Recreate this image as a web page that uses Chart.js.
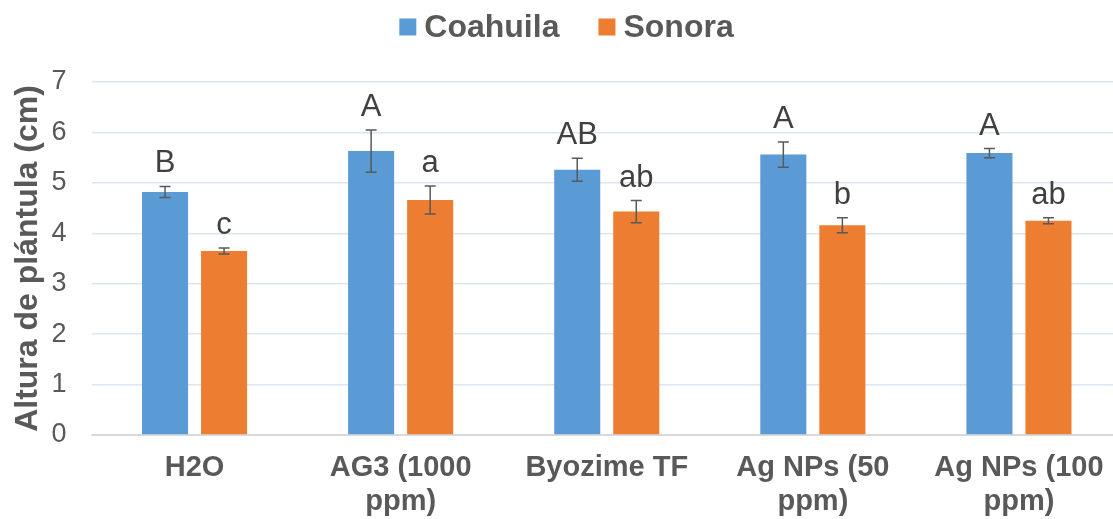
<!DOCTYPE html>
<html>
<head>
<meta charset="utf-8">
<script src="https://cdn.jsdelivr.net/npm/chart.js@4"></script>
<style>
  html, body { margin: 0; padding: 0; background: #ffffff; overflow: hidden; }
  #wrap { width: 1133px; height: 519px; position: relative; }
</style>
</head>
<body>
<div id="wrap"><canvas id="chart"></canvas></div>
<script>
// data
const categories = ['H2O', ['AG3 (1000', 'ppm)'], 'Byozime TF', ['Ag NPs (50', 'ppm)'], ['Ag NPs (100', 'ppm)']];
const coahuila = [4.82, 5.63, 5.26, 5.56, 5.59];
const coahuilaErr = [0.11, 0.42, 0.23, 0.25, 0.09];
const coahuilaLetters = ['B', 'A', 'AB', 'A', 'A'];
const sonora = [3.65, 4.66, 4.43, 4.16, 4.25];
const sonoraErr = [0.06, 0.28, 0.22, 0.15, 0.06];
const sonoraLetters = ['c', 'a', 'ab', 'b', 'ab'];
const yTicks = [0, 1, 2, 3, 4, 5, 6, 7];

const FONT = '"Liberation Sans", Arial, sans-serif';

// error bars + significance letters
const errorBarPlugin = {
    id: 'errorBars',
    afterDatasetsDraw(chart) {
        const ctx = chart.ctx;
        const yScale = chart.scales.y;
        chart.data.datasets.forEach((ds, di) => {
            const meta = chart.getDatasetMeta(di);
            meta.data.forEach((bar, i) => {
                const v = ds.data[i];
                const e = ds.errors[i];
                const yTop = yScale.getPixelForValue(v + e);
                const yBot = yScale.getPixelForValue(v - e);
                ctx.save();
                ctx.strokeStyle = '#595959';
                ctx.lineWidth = 1.5;
                ctx.beginPath();
                ctx.moveTo(bar.x, yTop);
                ctx.lineTo(bar.x, yBot);
                ctx.moveTo(bar.x - 5.5, yTop);
                ctx.lineTo(bar.x + 5.5, yTop);
                ctx.moveTo(bar.x - 5.5, yBot);
                ctx.lineTo(bar.x + 5.5, yBot);
                ctx.stroke();
                ctx.fillStyle = '#404040';
                ctx.font = '31px ' + FONT;
                ctx.textAlign = 'center';
                ctx.textBaseline = 'alphabetic';
                ctx.fillText(ds.letters[i], bar.x, yTop - 14);
                ctx.restore();
            });
        });
    }
};

// legend on top, drawn from the dataset labels and colours
const topLegendPlugin = {
    id: 'topLegend',
    afterDraw(chart) {
        const ctx = chart.ctx;
        const box = 17, gapText = 8, gapItem = 39;
        ctx.save();
        ctx.font = 'bold 32px ' + FONT;
        const widths = chart.data.datasets.map(ds => box + gapText + ctx.measureText(ds.label).width);
        const total = widths.reduce((a, b) => a + b, 0) + gapItem * (widths.length - 1);
        let x = chart.width / 2 - total / 2;
        const y = 27;
        chart.data.datasets.forEach((ds, i) => {
            ctx.fillStyle = ds.backgroundColor;
            ctx.fillRect(x, y - box / 2, box, box);
            ctx.fillStyle = '#595959';
            ctx.textAlign = 'left';
            ctx.textBaseline = 'middle';
            ctx.fillText(ds.label, x + box + gapText, y + 1);
            x += widths[i] + gapItem;
        });
        ctx.restore();
    }
};

new Chart(document.getElementById('chart').getContext('2d'), {
    type: 'bar',
    data: {
        labels: categories,
        datasets: [
            {
                label: 'Coahuila',
                data: coahuila,
                errors: coahuilaErr,
                letters: coahuilaLetters,
                backgroundColor: '#5b9bd5',
                categoryPercentage: 0.573,
                barPercentage: 0.78
            },
            {
                label: 'Sonora',
                data: sonora,
                errors: sonoraErr,
                letters: sonoraLetters,
                backgroundColor: '#ed7d31',
                categoryPercentage: 0.573,
                barPercentage: 0.78
            }
        ]
    },
    options: {
        responsive: true,
        maintainAspectRatio: false,
        animation: false,
        layout: { padding: { top: 82, left: 9, right: 11, bottom: 0 } },
        scales: {
            x: {
                grid: { display: false, drawTicks: false },
                border: { color: '#d9d9d9' },
                afterFit: (scale) => { scale.height = 84; },
                ticks: {
                    color: '#595959',
                    font: { family: FONT, size: 29, weight: 'bold', lineHeight: 1.17 },
                    padding: 16,
                    maxRotation: 0,
                    autoSkip: false
                }
            },
            y: {
                min: 0,
                max: 7,
                afterBuildTicks: (scale) => { scale.ticks = yTicks.map(v => ({ value: v })); },
                afterFit: (scale) => { scale.width = 82.5; },
                grid: {
                    drawTicks: false,
                    color: (c) => c.tick && c.tick.value === 0 ? '#d9d9d9' : '#dce6f2',
                    lineWidth: 1.5
                },
                border: { display: false },
                ticks: {
                    color: '#595959',
                    font: { family: FONT, size: 27 },
                    padding: 25
                },
                title: {
                    display: true,
                    text: 'Altura de plántula (cm)',
                    color: '#595959',
                    font: { family: FONT, size: 32, weight: 'bold', lineHeight: 1.2 },
                    padding: { top: 0, bottom: 4 }
                }
            }
        },
        plugins: {
            legend: { display: false },
            tooltip: { enabled: false }
        }
    },
    plugins: [errorBarPlugin, topLegendPlugin]
});
</script>
</body>
</html>
